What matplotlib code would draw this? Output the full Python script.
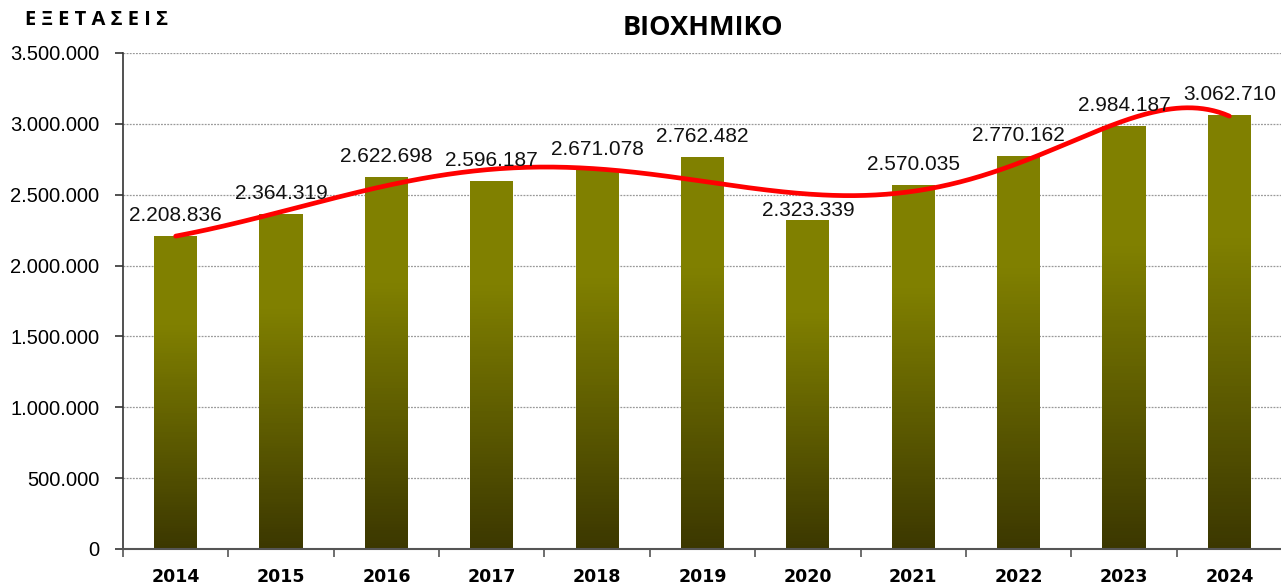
import numpy as np
import matplotlib
matplotlib.use("Agg")
import matplotlib.pyplot as plt
from matplotlib.colors import LinearSegmentedColormap

years = ["2014", "2015", "2016", "2017", "2018", "2019", "2020", "2021", "2022", "2023", "2024"]
values = [2208836, 2364319, 2622698, 2596187, 2671078, 2762482, 2323339, 2570035, 2770162, 2984187, 3062710]
trend_degree = 6

def fmt(v):
    return f"{int(v):,}".replace(",", ".")

fig = plt.figure(figsize=(12.81, 5.85), dpi=100)
ax = fig.add_axes([123/1281, 1-549/585, (1282-123)/1281, (549-53)/585])

x = np.arange(len(years))
w = 0.41
cmap = LinearSegmentedColormap.from_list("olive", [(0.0, "#3b3700"), (0.72, "#808000"), (1.0, "#808000")])
nseg = 120
fr = np.linspace(0, 1, nseg + 1)
for xi, v in zip(x, values):
    bottoms = fr[:-1] * v
    heights = np.diff(fr) * v * 1.01
    cols = cmap((fr[:-1] + fr[1:]) / 2)
    ax.bar(np.full(nseg, xi), heights, bottom=bottoms, width=w, color=cols,
           linewidth=0, zorder=2)

for i, (xi, v) in enumerate(zip(x, values)):
    off = 2.5 if years[i] == "2020" else 11
    ax.annotate(fmt(v), (xi, v), xytext=(0, off), textcoords="offset points",
                ha="center", va="baseline", fontsize=15,
                family="Liberation Sans", color="#111111", zorder=4)

coef = np.polyfit(x, values, trend_degree)
xs = np.linspace(0, 10, 400)
ax.plot(xs, np.polyval(coef, xs), color="#ff0000", lw=3.4, zorder=3, solid_capstyle="round")

ax.set_xlim(-0.5, 10.5)
ax.set_ylim(0, 3500000)
yt = np.arange(0, 3500001, 500000)
ax.set_yticks(yt)
ax.set_yticklabels([fmt(t) for t in yt], family="Liberation Sans", fontsize=14.5)
ax.set_xticks(x)
ax.set_xticklabels(years, fontweight="bold", fontsize=12.5, family="DejaVu Sans")
ax.set_xticks(np.arange(-0.5, 10.6, 1), minor=True)
ax.tick_params(axis="x", which="major", length=0, pad=14)
ax.tick_params(axis="x", which="minor", length=6, width=1.2, color="#555555", direction="out")
ax.tick_params(axis="y", length=6, width=1.2, color="#333333", direction="out", pad=11)
ax.grid(axis="y", color="#999999", linestyle=(0, (1.5, 1)), lw=0.9, zorder=0)
ax.set_axisbelow(True)
for s in ["top", "right"]:
    ax.spines[s].set_visible(False)
ax.spines["left"].set_color("#333333")
ax.spines["bottom"].set_color("#555555")
ax.spines["left"].set_linewidth(1.2)
ax.spines["bottom"].set_linewidth(1.5)

fig.text(703/1281, 1-28/585, "ΒΙΟΧΗΜΙΚΟ", ha="center", va="center", fontsize=19.5, fontweight="bold", family="Open Sans")
fig.text(25/1281, 1-20/585, "Ε Ξ Ε Τ Α Σ Ε Ι Σ", ha="left", va="center", fontsize=14.5, fontweight="bold", family="Open Sans")

fig.savefig("out.png", dpi=100)
